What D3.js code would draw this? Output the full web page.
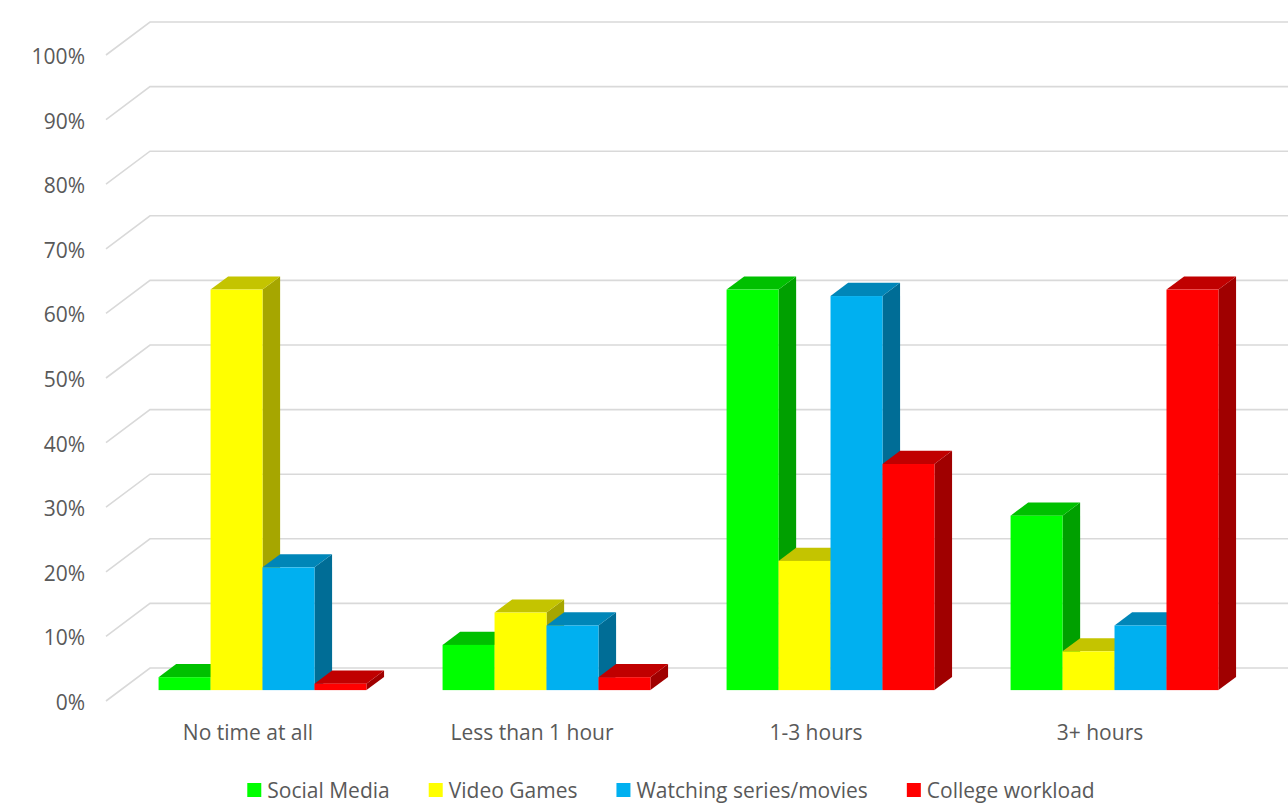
<!DOCTYPE html>
<html>
<head>
<meta charset="utf-8">
<script src="https://cdn.jsdelivr.net/npm/d3@7"></script>
<style>
  body { margin: 0; background: #fff; }
  text { font-family: "Open Sans", Lato, sans-serif; fill: #595959; }
</style>
</head>
<body>
<svg width="1288" height="807"></svg>
<script>
// data
var categories = ["No time at all", "Less than 1 hour", "1-3 hours", "3+ hours"];
var seriesNames = ["Social Media", "Video Games", "Watching series/movies", "College workload"];
var socialMedia = [0.02, 0.07, 0.62, 0.27];
var videoGames  = [0.62, 0.12, 0.20, 0.06];
var watching    = [0.19, 0.10, 0.61, 0.10];
var college     = [0.01, 0.02, 0.35, 0.62];
var yTicks = [0, 0.1, 0.2, 0.3, 0.4, 0.5, 0.6, 0.7, 0.8, 0.9, 1];

var values = [socialMedia, videoGames, watching, college];
// front, top, side
var colors = [
  ["#00ff00", "#00c000", "#00a000"],
  ["#ffff00", "#c4c400", "#a6a600"],
  ["#00b0f0", "#0086b8", "#006d96"],
  ["#ff0000", "#c00000", "#a00000"]
];

var svg = d3.select("svg");
var fontSize = "21px";

// back wall coordinates, plus an oblique depth vector towards the viewer
var wallLeft = 150, wallRight = 1288;
var depth = {dx: -44, dy: 33};
var barBack = 0.27, barFront = 0.67;

var x0 = d3.scaleBand().domain(categories).range([150, 1286])
    .paddingInner(0.268).paddingOuter(0.134);
var x1 = d3.scaleBand().domain(seriesNames).range([0, x0.bandwidth()]);
var y = d3.scaleLinear().domain([0, 1]).range([668, 22]);

// gridlines: back wall + floor/side diagonal
var grid = svg.append("g").attr("stroke", "#d9d9d9").attr("stroke-width", 1.6).attr("fill", "none");
yTicks.forEach(function(t) {
  grid.append("path")
    .attr("d", "M" + (wallLeft + depth.dx) + "," + (y(t) + depth.dy) +
               "L" + wallLeft + "," + y(t) + "L" + wallRight + "," + y(t));
});

// y labels
svg.append("g").selectAll("text")
  .data(yTicks)
  .enter().append("text")
    .attr("x", 85)
    .attr("y", function(d) { return y(d) + depth.dy + 1; })
    .attr("text-anchor", "end")
    .attr("dominant-baseline", "central")
    .style("font-size", fontSize)
    .text(function(d) { return Math.round(d * 100) + "%"; });

// bars, drawn left to right so later faces hide earlier sides
var bars = svg.append("g");
categories.forEach(function(c, ci) {
  seriesNames.forEach(function(s, si) {
    var v = values[si][ci];
    var x = x0(c) + x1(s), w = x1.bandwidth();
    var fx = x + barFront * depth.dx, fy = y(v) + barFront * depth.dy, fb = y(0) + barFront * depth.dy;
    var bx = x + barBack * depth.dx, by = y(v) + barBack * depth.dy, bb = y(0) + barBack * depth.dy;
    var col = colors[si];
    bars.append("polygon")
      .attr("points", [[fx + w, fy], [bx + w, by], [bx + w, bb], [fx + w, fb]].join(" "))
      .attr("fill", col[2]);
    bars.append("polygon")
      .attr("points", [[fx, fy], [fx + w, fy], [bx + w, by], [bx, by]].join(" "))
      .attr("fill", col[1]);
    bars.append("rect")
      .attr("x", fx).attr("y", fy)
      .attr("width", w).attr("height", fb - fy)
      .attr("fill", col[0]);
  });
});

// category labels at the front edge of the floor
svg.append("g").selectAll("text")
  .data(categories)
  .enter().append("text")
    .attr("x", function(d) { return x0(d) + x0.bandwidth() / 2 + depth.dx; })
    .attr("y", 732)
    .attr("text-anchor", "middle")
    .attr("dominant-baseline", "central")
    .style("font-size", fontSize)
    .text(function(d) { return d; });

// legend, centred
var legend = svg.append("g");
var items = legend.selectAll("g")
  .data(seriesNames)
  .enter().append("g");
items.append("rect")
  .attr("width", 14).attr("height", 14)
  .attr("y", 783)
  .attr("fill", function(d, i) { return colors[i][0]; });
items.append("text")
  .attr("x", 20)
  .attr("y", 790)
  .attr("dominant-baseline", "central")
  .style("font-size", fontSize)
  .text(function(d) { return d; });
var pos = 0, offsets = [];
items.each(function() {
  offsets.push(pos);
  pos += 20 + d3.select(this).select("text").node().getComputedTextLength() + 39;
});
var total = pos - 39, start = 671 - total / 2;
items.attr("transform", function(d, i) { return "translate(" + (start + offsets[i]) + ",0)"; });
</script>
</body>
</html>
